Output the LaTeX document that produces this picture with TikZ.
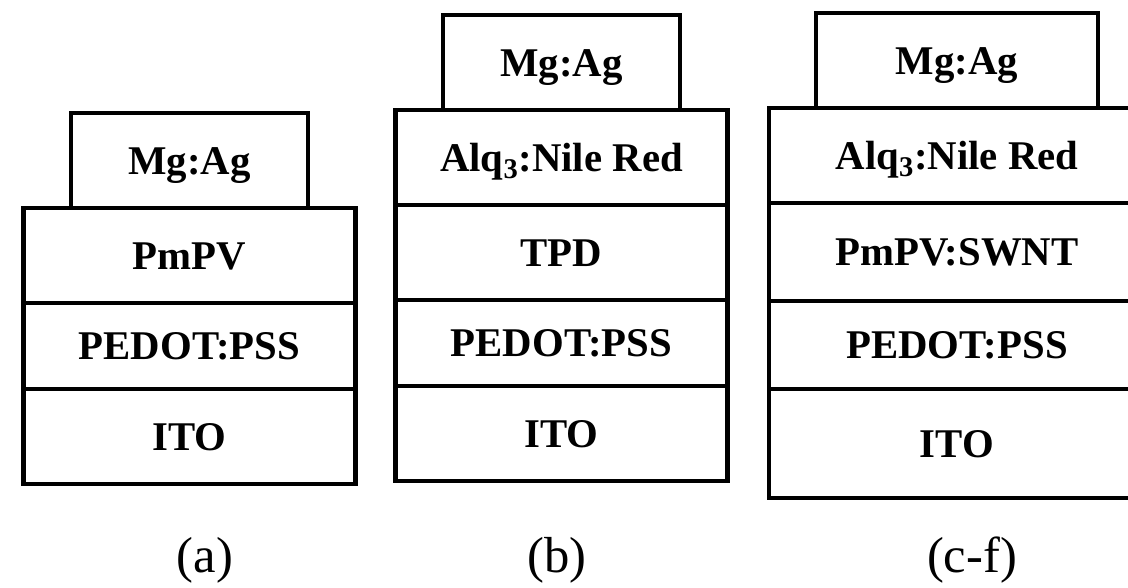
\documentclass[tikz,border=0pt]{standalone}
\usepackage{fontspec}
\setmainfont{Liberation Serif}
\usetikzlibrary{positioning}

\begin{document}
\begin{tikzpicture}[
    x=0.025cm, y=-0.025cm,
    layer/.style={draw, rectangle, line width=3pt, outer sep=0pt, inner sep=0pt, minimum width=8.3cm, minimum height=2.375cm, text height=19.5pt, text depth=0pt, font=\fontsize{29}{34}\selectfont\bfseries},
    thinlayer/.style={layer, minimum height=2.15cm},
    cathode/.style={layer, minimum width=5.925cm},
    tag/.style={font=\fontsize{36}{40}\selectfont}
]
\useasboundingbox (0,0) rectangle (1128,587);

% device (a)
\node[cathode, anchor=north] (mga) at (189.5,113) {Mg:Ag};
\node[layer, below=0pt of mga] (pmpva) {PmPV};
\node[thinlayer, below=0pt of pmpva] (pedota) {PEDOT:PSS};
\node[layer, below=0pt of pedota] (itoa) {ITO};

% device (b)
\node[cathode, anchor=north] (mgb) at (561.5,15) {Mg:Ag};
\node[layer, below=0pt of mgb] (alqb) {Alq\textsubscript{3}:Nile Red};
\node[layer, below=0pt of alqb] (tpdb) {TPD};
\node[thinlayer, below=0pt of tpdb] (pedotb) {PEDOT:PSS};
\node[layer, below=0pt of pedotb] (itob) {ITO};

% device (c-f)
\node[cathode, anchor=north, minimum width=7.05cm] (mgc) at (957,13) {Mg:Ag};
\node[layer, below=0pt of mgc, minimum width=9.4cm] (alqc) {Alq\textsubscript{3}:Nile Red};
\node[layer, below=0pt of alqc, minimum width=9.4cm, minimum height=2.45cm] (swntc) {PmPV:SWNT};
\node[thinlayer, below=0pt of swntc, minimum width=9.4cm, minimum height=2.2cm] (pedotc) {PEDOT:PSS};
\node[layer, below=0pt of pedotc, minimum width=9.4cm, minimum height=2.725cm] (itoc) {ITO};

\node[tag] (taga) at (205,560) {(a)};
\node[tag] (tagb) at (557,560) {(b)};
\node[tag] (tagc) at (972,560) {(c-f)};
\end{tikzpicture}
\end{document}
